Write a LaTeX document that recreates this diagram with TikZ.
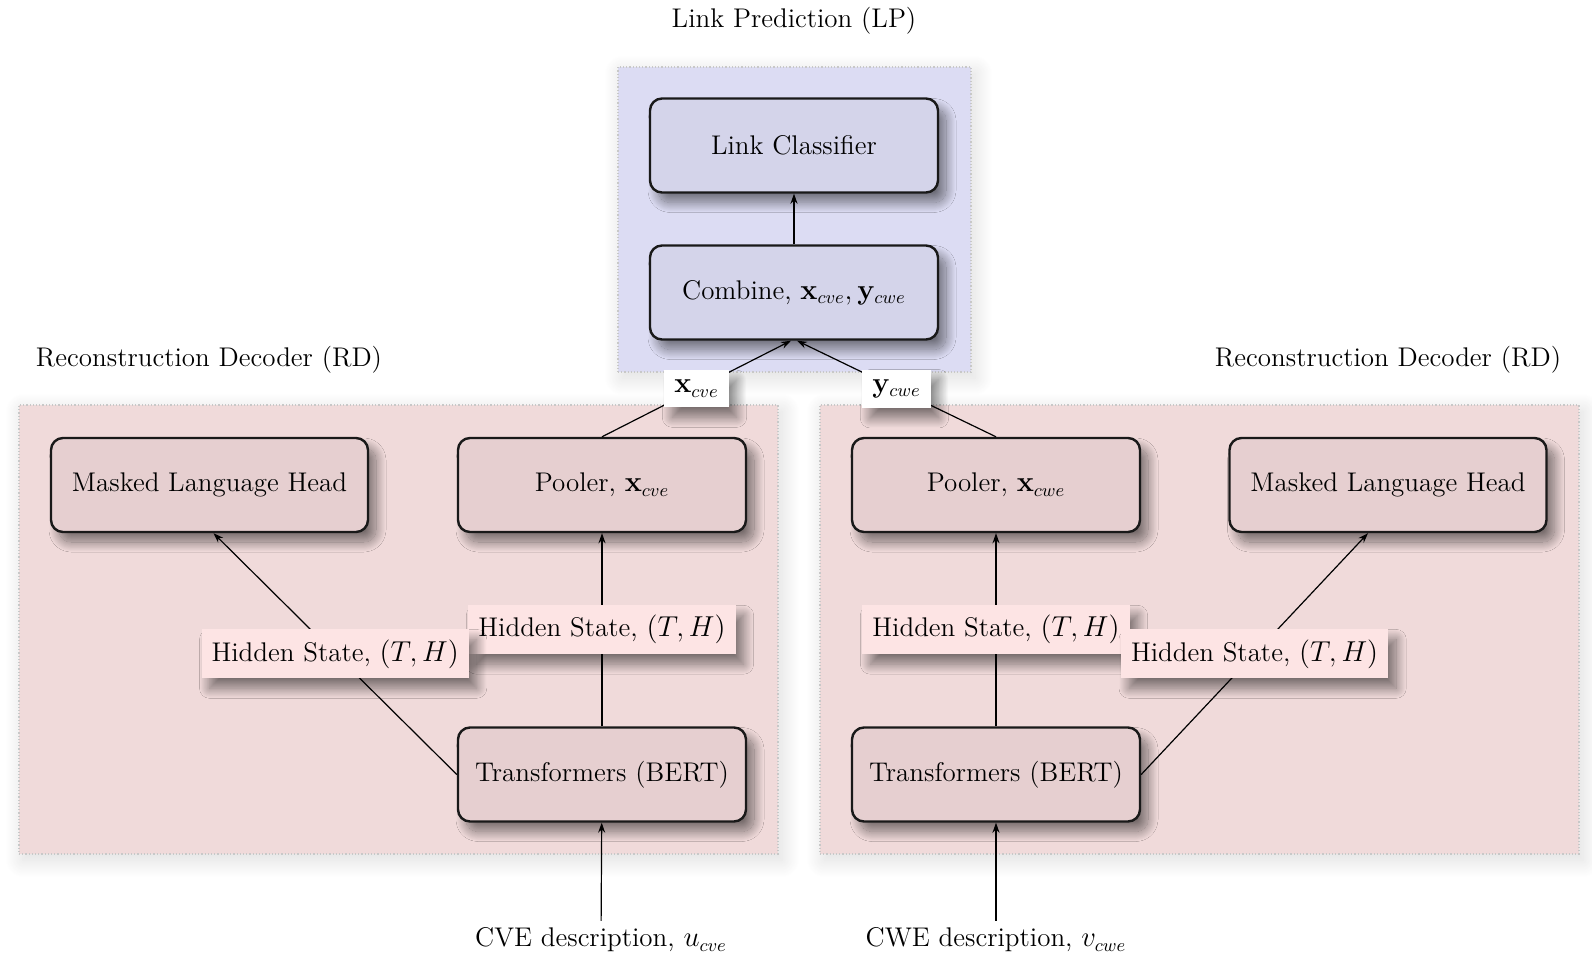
\documentclass[tikz,border=0pt]{standalone}
\usetikzlibrary{arrows.meta,shadows.blur}
\definecolor{rdback}{HTML}{F0DADA}
\definecolor{rdnode}{HTML}{E6CFD0}
\definecolor{lpback}{HTML}{DCDCF3}
\definecolor{lpnode}{HTML}{D4D4EA}
\definecolor{hidfill}{HTML}{FDE4E4}
\definecolor{groupedge}{HTML}{C8C8C8}
\tikzset{
  softshadow/.style={blur shadow={shadow xshift=4pt,shadow yshift=-5pt,
      shadow blur radius=5pt,shadow blur steps=24,shadow opacity=50}},
  groupshadow/.style={blur shadow={shadow xshift=2pt,shadow yshift=-3pt,
      shadow blur radius=9pt,shadow blur steps=24,shadow opacity=14}},
  group/.style={draw=groupedge,densely dotted,line width=0.6pt,inner sep=0pt,groupshadow},
  block/.style={draw=black!90,line width=1.2pt,rounded corners=6pt,inner sep=0pt,
      minimum height=47pt,softshadow,align=center},
  rdblock/.style={block,fill=rdnode},
  lpblock/.style={block,fill=lpnode},
  hidlabel/.style={fill=hidfill,inner sep=5pt,softshadow},
  veclabel/.style={fill=white,inner sep=5pt,softshadow},
  title/.style={inner sep=2pt},
  flow/.style={line width=0.6pt,-{Stealth[length=5pt,width=3.5pt]}},
  every node/.append style={font=\fontsize{13.5}{16}\selectfont},
}
\begin{document}
\begin{tikzpicture}[x=0.5pt,y=-0.5pt]
\useasboundingbox (0,0) rectangle (1592,959);

% group backgrounds
\node[group,fill=lpback,minimum width=176.5pt,minimum height=152.5pt] (lp) at (794.5,219.5) {};
\node[group,fill=rdback,minimum width=379.5pt,minimum height=224.5pt] (rdl) at (398.5,629.5) {};
\node[group,fill=rdback,minimum width=379.5pt,minimum height=224.5pt] (rdr) at (1199.5,629.5) {};

% group titles
\node[title] (lptitle) at (794,21) {Link Prediction (LP)};
\node[title] (rdltitle) at (209,360) {Reconstruction Decoder (RD)};
\node[title] (rdrtitle) at (1388,360) {Reconstruction Decoder (RD)};

% link prediction blocks
\node[lpblock,minimum width=144pt] (cls) at (794,145.5) {Link Classifier};
\node[lpblock,minimum width=144pt] (comb) at (794,292.5) {Combine, $\mathbf{x}_{cve},\mathbf{y}_{cwe}$};

% left decoder blocks
\node[rdblock,minimum width=158.5pt] (mlhl) at (209.5,485) {Masked Language Head};
\node[rdblock,minimum width=144pt] (pooll) at (602,485) {Pooler, $\mathbf{x}_{cve}$};
\node[rdblock,minimum width=144pt] (bertl) at (602,774.5) {Transformers (BERT)};

% right decoder blocks
\node[rdblock,minimum width=144pt] (poolr) at (996,485) {Pooler, $\mathbf{x}_{cwe}$};
\node[rdblock,minimum width=158.5pt] (mlhr) at (1388,485) {Masked Language Head};
\node[rdblock,minimum width=144pt] (bertr) at (996,774.5) {Transformers (BERT)};

% inputs
\node (inl) at (601,940) {CVE description, $u_{cve}$};
\node (inr) at (996,940) {CWE description, $v_{cwe}$};

% connectors
\draw[flow] (comb) -- (cls);
\draw[flow] (pooll.north) -- node[veclabel] (xl) {$\mathbf{x}_{cve}$} ([xshift=-1.5pt]comb.south);
\draw[flow] (poolr.north) -- node[veclabel] (yl) {$\mathbf{y}_{cwe}$} ([xshift=1.5pt]comb.south);

\draw[flow] (bertl) -- node[hidlabel] (hl1) {Hidden State, $(T,H)$} (pooll);
\draw[flow] (bertl.west) -- node[hidlabel] (hl2) {Hidden State, $(T,H)$} ([xshift=2pt]mlhl.south);
\draw[flow] (bertr) -- node[hidlabel] (hr1) {Hidden State, $(T,H)$} (poolr);
\draw[flow] (bertr.east) -- node[hidlabel] (hr2) {Hidden State, $(T,H)$} ([xshift=-10pt]mlhr.south);

\draw[flow] (inl) -- (bertl);
\draw[flow] (inr) -- (bertr);
\end{tikzpicture}
\end{document}
